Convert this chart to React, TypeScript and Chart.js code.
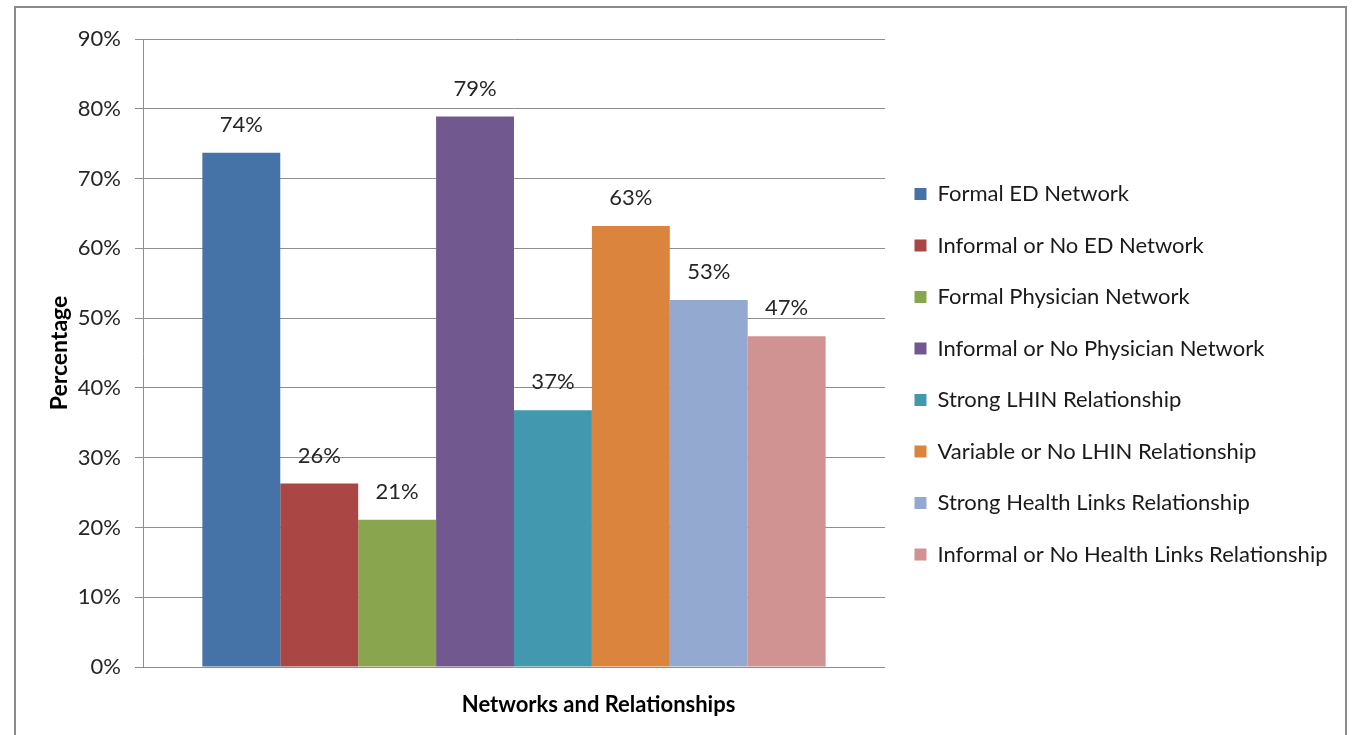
import React, { useEffect, useRef } from 'react';
import { Chart, registerables } from 'chart.js';

Chart.register(...registerables);

const categories = ['Networks and Relationships'];
const seriesNames = [
  'Formal ED Network',
  'Informal or No ED Network',
  'Formal Physician Network',
  'Informal or No Physician Network',
  'Strong LHIN Relationship',
  'Variable or No LHIN Relationship',
  'Strong Health Links Relationship',
  'Informal or No Health Links Relationship',
];
const seriesValues = [73.7, 26.3, 21.1, 78.9, 36.8, 63.2, 52.6, 47.4];
const seriesColors = ['#4572A7', '#AA4643', '#89A54E', '#71588F', '#4198AF', '#DB843D', '#93A9CF', '#D19392'];
const yMin = 0;
const yMax = 90;
const yStep = 10;
const yAxisTitle = 'Percentage';
const xAxisTitle = 'Networks and Relationships';

const FONT = 'Lato, "Noto Sans", sans-serif';
const TEXT = '#262626';
const GRID = '#8e8e8e';

export default function App() {
  const ref = useRef<HTMLCanvasElement>(null);

  useEffect(() => {
    document.body.style.margin = '0';
    const canvas = ref.current;
    if (!canvas) return;

    // let the right-hand legend use the width it needs
    const wideLegend = {
      id: 'wideLegend',
      beforeLayout(chart: any) {
        const lg = chart.legend;
        if (lg && !lg.__wide) {
          const orig = lg.update.bind(lg);
          lg.update = (mw: number, mh: number, m: any) => orig(Math.max(mw, 520), mh, m);
          lg.__wide = true;
        }
      },
    };

    const valueLabels = {
      id: 'valueLabels',
      afterDatasetsDraw(chart: any) {
        const ctx = chart.ctx;
        ctx.save();
        ctx.font = `22px ${FONT}`;
        ctx.fillStyle = TEXT;
        ctx.textAlign = 'center';
        ctx.textBaseline = 'middle';
        chart.data.datasets.forEach((ds: any, i: number) => {
          const meta = chart.getDatasetMeta(i);
          meta.data.forEach((el: any, j: number) => {
            const v = ds.data[j] as number;
            ctx.fillText(Math.round(v) + '%', el.x, el.y - 28);
          });
        });
        ctx.restore();
      },
    };

    const xTitle = {
      id: 'xTitle',
      afterDraw(chart: any) {
        const { ctx, chartArea } = chart;
        ctx.save();
        ctx.font = `bold 22px ${FONT}`;
        ctx.fillStyle = '#000';
        ctx.textAlign = 'center';
        ctx.textBaseline = 'middle';
        ctx.fillText(
          xAxisTitle,
          chartArea.left + (chartArea.right - chartArea.left) * 0.614,
          chartArea.bottom + 38
        );
        ctx.restore();
      },
    };

    const chart = new Chart(canvas, {
      type: 'bar',
      data: {
        labels: categories,
        datasets: seriesNames.map((name, i) => ({
          label: name,
          data: [seriesValues[i]],
          backgroundColor: seriesColors[i],
          borderWidth: 0,
          categoryPercentage: 0.84,
          barPercentage: 1,
        })),
      },
      options: {
        responsive: false,
        animation: false,
        layout: { padding: { left: 0, top: 39, right: 15.5, bottom: 0 } },
        plugins: {
          legend: {
            position: 'right',
            align: 'start',
            fullSize: false,
            title: { display: true, text: ' ', font: { size: 10 }, padding: { top: 102.5, bottom: 0 } },
            labels: {
              boxWidth: 12,
              boxHeight: 12,
              padding: 29.5,
              color: '#1a1a1a',
              font: { family: FONT, size: 22 },
            },
          },
          tooltip: { enabled: false },
        },
        scales: {
          x: {
            ticks: { display: false },
            grid: { display: false },
            border: { display: false },
            afterFit: (s: any) => {
              s.height = 68;
            },
          },
          y: {
            min: yMin,
            max: yMax,
            ticks: {
              stepSize: yStep,
              callback: (v: any) => v + '%',
              padding: 14,
              color: TEXT,
              font: { family: FONT, size: 22 },
            },
            grid: { color: GRID, tickLength: 8, drawTicks: true, lineWidth: 1 },
            border: { color: GRID },
            title: {
              display: true,
              text: yAxisTitle,
              color: '#000',
              font: { family: FONT, size: 23, weight: 'bold' },
              padding: { top: 46, bottom: 0 },
            },
            afterFit: (s: any) => {
              s.width = 143;
            },
          },
        },
      },
      plugins: [wideLegend, valueLabels, xTitle],
    } as any);

    return () => chart.destroy();
  }, []);

  return (
    <div style={{ position: 'relative', width: 1353, height: 735, overflow: 'hidden', background: '#fff' }}>
      <div
        style={{
          position: 'absolute',
          left: 14,
          top: 6,
          width: 1329,
          height: 800,
          border: '2px solid #8a8a8a',
          borderBottom: 'none',
          boxSizing: 'content-box',
        }}
      />
      <canvas
        ref={ref}
        width={1353}
        height={735}
        style={{ position: 'absolute', left: 0, top: 0, width: 1353, height: 735 }}
      />
    </div>
  );
}
